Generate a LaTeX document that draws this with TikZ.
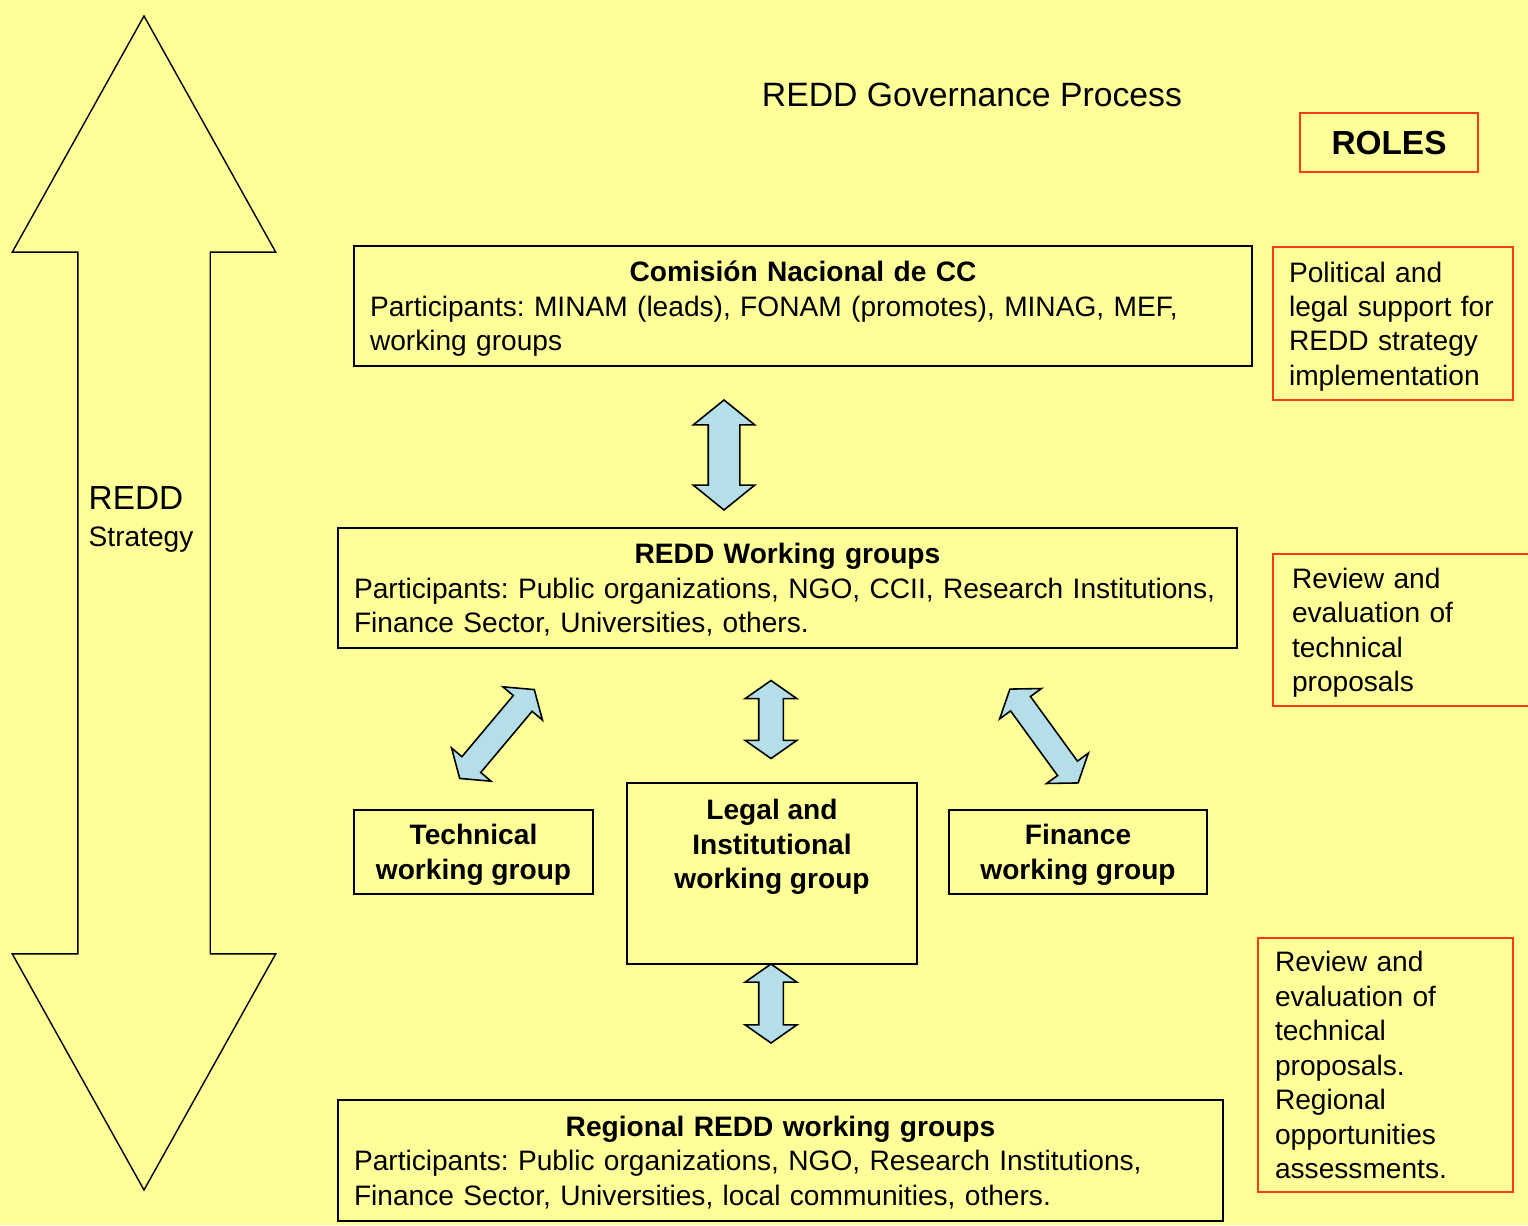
\documentclass[tikz,border=0pt]{standalone}
\usepackage{fontspec}
\setmainfont{Liberation Sans}
\usetikzlibrary{shapes.arrows}

\definecolor{bgyellow}{RGB}{255,255,153}
\definecolor{rolered}{RGB}{250,60,20}
\definecolor{arrowblue}{RGB}{180,222,232}

\newcommand{\bodysize}{\fontsize{8}{9.8}\selectfont}
\frenchspacing

\tikzset{
  wgbox/.style={draw=black, line width=0.55pt, inner xsep=1.6mm, inner ysep=0pt, font=\bodysize},
  rolebox/.style={draw=rolered, line width=0.55pt, align=left, inner xsep=1.9mm, inner ysep=0pt, font=\bodysize},
  linkarrow/.style={double arrow, draw=black, fill=arrowblue, line width=0.45pt, inner xsep=0pt, minimum width=0pt},
  smallarrow/.style={linkarrow, inner ysep=1.15mm, double arrow head extend=1.35mm, double arrow tip angle=110}
}

\begin{document}
\begin{tikzpicture}[x=0.1mm, y=-0.1mm]

% Background
\fill[bgyellow] (0,0) rectangle (1528,1225);
\useasboundingbox (0,0) rectangle (1528,1225);

% Strategy arrow
\node[double arrow, draw=black, fill=bgyellow, line width=0.4pt, rotate=90, inner xsep=0pt, inner ysep=6.55mm, minimum width=0pt, minimum height=117.4mm, double arrow head extend=6.55mm, double arrow tip angle=58.3] (strat) at (144,603) {};
\node[anchor=west, inner sep=0pt, font=\fontsize{9.5}{11}\selectfont] (redd) at (88,498) {REDD};
\node[anchor=west, inner sep=0pt, font=\bodysize] (strategy) at (88,540) {Strategy};

% Title and roles
\node[font=\fontsize{9.6}{11}\selectfont] (title) at (972,95) {REDD Governance Process};
\node[rolebox, align=center, text depth=0pt, minimum width=17.8mm, minimum height=5.9mm, font=\fontsize{9.5}{11}\selectfont\bfseries] (roles) at (1389,142.5) {ROLES};

% Working group boxes
\node[wgbox, minimum width=89.8mm, minimum height=12mm, text width=86.6mm, text depth=19.6pt, align=left] (cnc) at (803,306) {{\centering\bfseries Comisión Nacional de CC\par}Participants: MINAM (leads), FONAM (promotes), MINAG, MEF,\\working groups};
\node[wgbox, minimum width=89.9mm, minimum height=12mm, text width=86.7mm, text depth=19.6pt, align=left] (wg) at (787.5,588) {{\centering\bfseries REDD Working groups\par}Participants: Public organizations, NGO, CCII, Research Institutions,\\Finance Sector, Universities, others.};
\node[wgbox, minimum width=23.9mm, minimum height=8.4mm, text depth=0pt, align=center, font=\bodysize\bfseries] (tech) at (473.5,852) {Technical\\working group};
\node[wgbox, minimum width=29mm, minimum height=18.1mm] (legal) at (772,873.5) {};
\node[align=center, text depth=0pt, font=\bodysize\bfseries] (legaltext) at (772,844) {Legal and\\Institutional\\working group};
\node[wgbox, minimum width=25.8mm, minimum height=8.4mm, text depth=0pt, align=center, font=\bodysize\bfseries] (fin) at (1078,852) {Finance\\working group};
\node[wgbox, minimum width=88.5mm, minimum height=12.1mm, text width=85.3mm, text depth=19.6pt, align=left] (reg) at (780.5,1160.5) {{\centering\bfseries Regional REDD working groups\par}Participants: Public organizations, NGO, Research Institutions,\\Finance Sector, Universities, local communities, others.};

% Role boxes
\node[rolebox, inner xsep=1.6mm, minimum width=24mm, minimum height=15.3mm, text width=20.8mm, text depth=29.4pt] (role1) at (1393,323.5) {Political and\\legal support for\\REDD strategy\\implementation};
\node[rolebox, minimum width=26.2mm, minimum height=15.2mm, text width=22.4mm, text depth=29.4pt] (role2) at (1404,630) {Review and\\evaluation of\\technical\\proposals};
\node[rolebox, inner xsep=1.7mm, minimum width=25.5mm, minimum height=25.4mm, text width=22.1mm, text depth=58.8pt] (role3) at (1385.5,1065) {Review and\\evaluation of\\technical\\proposals.\\Regional\\opportunities\\assessments.};

% Links
\node[linkarrow, minimum height=11mm, inner ysep=1.5mm, double arrow head extend=1.5mm, double arrow tip angle=102, rotate=90] (cncwg) at (724,455) {};
\node[smallarrow, minimum height=11.6mm, rotate=50] (wgtech) at (497,734) {};
\node[smallarrow, minimum height=7.8mm, rotate=90] (wglegal) at (771,719.5) {};
\node[smallarrow, minimum height=11.6mm, rotate=-54] (wgfin) at (1044,736) {};
\node[smallarrow, minimum height=7.9mm, rotate=90] (legalreg) at (771,1003.5) {};

\end{tikzpicture}
\end{document}
